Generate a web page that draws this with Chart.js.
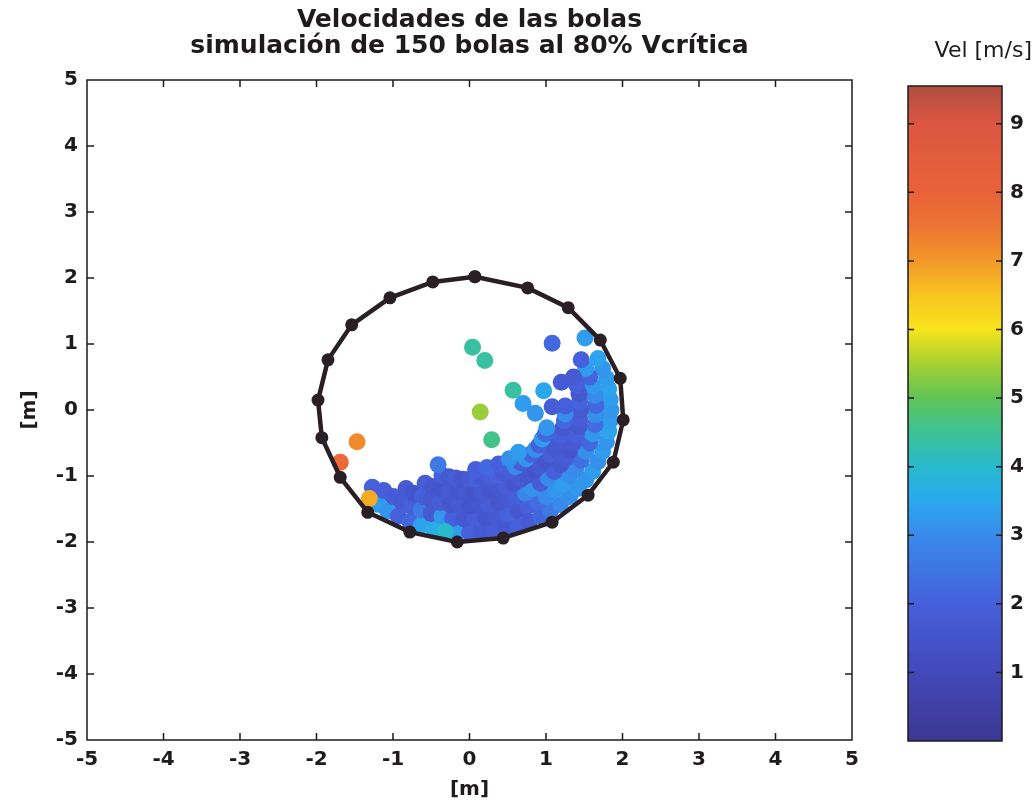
<!DOCTYPE html>
<html>
<head>
<meta charset="utf-8">
<script src="https://cdn.jsdelivr.net/npm/chart.js@4.4.0/dist/chart.umd.min.js"></script>
<style>
  html, body { margin:0; background:#fff; }
  #wrap { position:relative; width:1032px; height:802px; }
  #main { position:absolute; left:0; top:0; }
  #cbar { position:absolute; left:880px; top:0; }
</style>
</head>
<body>
<div id="wrap">
  <canvas id="main" width="880" height="802"></canvas>
  <canvas id="cbar" width="152" height="802"></canvas>
</div>
<script>
/* ======== DATA ======== */
const axisTicks = [-5,-4,-3,-2,-1,0,1,2,3,4,5];
const cbarTicks = [1,2,3,4,5,6,7,8,9];
const velMin = 0, velMax = 9.55;

// mill wall (lifters) - closed polygon
const wallX = [0.07, 0.76, 1.29, 1.71, 1.97, 2.01, 1.88, 1.55, 1.08, 0.44, -0.16, -0.78, -1.33, -1.69, -1.93, -1.98, -1.85, -1.54, -1.04, -0.48, 0.07];
const wallY = [2.02, 1.85, 1.55, 1.06, 0.48, -0.15, -0.79, -1.29, -1.70, -1.94, -2.00, -1.85, -1.55, -1.02, -0.42, 0.15, 0.76, 1.29, 1.70, 1.94, 2.02];

// balls: position [m] and speed [m/s]
const ballX = [
  -1.19,-1.07,-0.93,-0.78,-0.63,-0.47,-0.16,0.00,0.16,0.32,0.48,0.63,0.78,0.93,1.06,1.19,1.31,1.42,1.52,1.61,1.68,1.74,1.79,1.82,1.84,1.85,1.84,1.82,1.79,1.74,1.68,
  -1.12,-1.00,-0.89,-0.76,-0.63,-0.50,-0.36,-0.22,-0.07,0.07,0.22,0.36,0.50,0.63,0.76,0.89,1.00,1.12,1.22,1.31,1.39,1.46,1.52,1.57,1.61,1.64,1.65,1.65,1.64,1.61,1.57,1.52,1.46,
  -0.83,-0.73,-0.61,-0.50,-0.38,-0.25,-0.13,0.00,0.13,0.25,0.38,0.50,0.61,0.73,0.83,0.93,1.03,1.11,1.19,1.26,1.31,1.36,1.40,1.43,1.44,1.45,1.44,1.43,1.40,1.36,
  -0.58,-0.48,-0.38,-0.27,-0.16,-0.06,0.06,0.16,0.27,0.38,0.48,0.58,0.67,0.76,0.85,0.92,0.99,1.05,1.11,1.16,1.19,1.22,1.24,1.25,1.25,
  -0.36,-0.27,-0.18,-0.09,0.00,0.09,0.18,0.27,0.36,0.44,0.53,0.60,0.67,0.74,0.80,0.86,0.91,0.95,0.99,1.01,
  0.08,0.23,0.38,0.52,0.64,
  0.70,0.86,1.08,1.20,-1.27,
  -1.47,-1.69,0.04,0.20,0.14,0.29,0.57,0.97,1.08,1.51,-0.41,-1.31,-0.32
];
const ballY = [
  -1.43,-1.53,-1.61,-1.69,-1.75,-1.80,-1.85,-1.86,-1.84,-1.82,-1.79,-1.75,-1.69,-1.61,-1.52,-1.43,-1.31,-1.19,-1.06,-0.93,-0.78,-0.63,-0.48,-0.32,-0.16,0.00,0.16,0.32,0.48,0.63,0.78,
  -1.22,-1.31,-1.39,-1.46,-1.52,-1.57,-1.61,-1.64,-1.65,-1.65,-1.64,-1.61,-1.57,-1.52,-1.46,-1.39,-1.31,-1.22,-1.12,-1.00,-0.89,-0.76,-0.63,-0.50,-0.36,-0.22,-0.07,0.07,0.22,0.36,0.50,0.63,0.76,
  -1.19,-1.26,-1.31,-1.36,-1.40,-1.43,-1.44,-1.45,-1.44,-1.43,-1.40,-1.36,-1.31,-1.26,-1.19,-1.11,-1.03,-0.93,-0.83,-0.73,-0.61,-0.50,-0.38,-0.25,-0.13,0.00,0.13,0.25,0.38,0.50,
  -1.11,-1.16,-1.19,-1.22,-1.24,-1.25,-1.25,-1.24,-1.22,-1.19,-1.16,-1.11,-1.05,-0.99,-0.92,-0.85,-0.76,-0.67,-0.58,-0.48,-0.38,-0.27,-0.16,-0.06,0.06,
  -0.99,-1.01,-1.03,-1.05,-1.05,-1.05,-1.03,-1.01,-0.99,-0.95,-0.91,-0.86,-0.80,-0.74,-0.67,-0.60,-0.53,-0.44,-0.36,-0.27,
  -0.90,-0.87,-0.82,-0.74,-0.64,
  0.10,-0.05,0.05,0.42,-1.17,
  -0.48,-0.79,0.95,0.75,-0.03,-0.45,0.30,0.29,1.01,1.09,-0.83,-1.34,-1.84
];
const ballVel = [
  3.3,3.2,2.0,2.2,3.4,3.6,3.3,2.0,1.8,1.9,1.7,2.0,1.8,2.2,2.6,3.0,3.1,3.2,3.2,3.3,3.1,3.3,3.2,3.4,3.3,3.2,3.3,3.4,3.3,3.2,3.4,
  2.0,1.9,1.8,2.0,2.6,1.8,3.2,2.0,1.7,1.9,1.6,1.8,2.1,1.7,2.0,2.3,3.0,3.2,3.3,3.1,3.0,2.4,3.1,2.2,3.2,2.3,3.1,2.2,3.0,3.2,2.1,3.3,2.0,
  1.8,1.6,2.0,1.7,1.9,1.6,1.8,1.5,1.7,1.9,1.6,1.8,2.0,2.9,3.1,1.9,3.0,2.0,1.7,1.9,1.6,1.8,2.0,1.7,1.9,1.8,2.1,1.7,2.0,1.8,
  1.9,1.7,1.5,1.8,1.6,1.7,1.5,1.8,1.6,1.7,1.9,1.6,1.8,1.7,1.5,1.8,1.6,1.9,1.7,1.8,2.0,1.7,2.2,3.0,2.0,
  2.0,1.7,1.9,1.6,1.8,2.0,1.7,1.9,2.1,1.8,2.0,3.0,1.9,3.2,2.1,3.1,2.0,3.3,2.2,3.2,
  2.0,2.2,2.0,3.1,3.3,
  3.3,3.2,1.9,1.8,2.0,
  7.2,7.8,4.4,4.4,5.4,4.6,4.4,3.5,2.2,3.3,2.6,6.8,4.0
];

/* ======== COLORMAP ======== */
const cmapStops = [
  [0.0,[60,56,145]],[1.0,[67,72,185]],[2.0,[70,95,218]],[3.0,[56,138,235]],
  [3.5,[42,168,238]],[4.0,[40,186,205]],[4.5,[60,194,150]],[5.0,[95,196,85]],
  [5.5,[165,208,50]],[6.0,[248,228,28]],[6.5,[247,196,32]],[7.0,[242,152,40]],
  [7.5,[236,116,50]],[8.0,[232,98,56]],[9.0,[220,86,66]],[9.55,[176,78,66]]
];
function velColor(v){
  for(let i=1;i<cmapStops.length;i++){
    const [v1,c1] = cmapStops[i-1], [v2,c2] = cmapStops[i];
    if(v <= v2){
      const t = Math.max(0,(v-v1)/(v2-v1));
      return `rgb(${c1.map((c,k)=>Math.round(c+(c2[k]-c)*t)).join(',')})`;
    }
  }
  return `rgb(${cmapStops[cmapStops.length-1][1].join(',')})`;
}

/* ======== SHARED STYLE ======== */
const INK = '#1f1a1d';
const tickFont = { family:'DejaVu Sans', size:20, weight:'bold' };

// box around the axes + inward tick marks (MATLAB style)
const framePlugin = {
  id:'frame',
  afterDatasetsDraw(chart, args, opts){
    const {ctx, chartArea:a, scales} = chart;
    ctx.save();
    ctx.strokeStyle = INK;
    ctx.lineWidth = 1.5;
    ctx.strokeRect(a.left, a.top, a.right-a.left, a.bottom-a.top);
    ctx.beginPath();
    (opts.xTicks||[]).forEach(v=>{
      const px = scales.x.getPixelForValue(v);
      ctx.moveTo(px, a.bottom); ctx.lineTo(px, a.bottom-opts.len);
      ctx.moveTo(px, a.top); ctx.lineTo(px, a.top+opts.len);
    });
    (opts.yTicks||[]).forEach(v=>{
      const py = scales.y.getPixelForValue(v);
      ctx.moveTo(a.left, py); ctx.lineTo(a.left+opts.len, py);
      ctx.moveTo(a.right, py); ctx.lineTo(a.right-opts.len, py);
    });
    ctx.stroke();
    ctx.restore();
  }
};

/* ======== MAIN SCATTER ======== */
const wallPts = wallX.map((x,i)=>({x, y:wallY[i]}));
const ballPts = ballX.map((x,i)=>({x, y:ballY[i]}));

new Chart(document.getElementById('main'), {
  type:'scatter',
  data:{
    datasets:[
      { data:wallPts, showLine:true, borderColor:'#2a1f24', borderWidth:4.5,
        pointRadius:6.5, pointBackgroundColor:'#2a1f24', pointBorderWidth:0, order:1 },
      { data:ballPts, pointRadius:8.5, pointBorderWidth:0,
        pointBackgroundColor: c => velColor(ballVel[c.dataIndex]), order:2 }
    ]
  },
  options:{
    responsive:false, animation:false, events:[],
    layout:{ padding:{ left:0, right:28, top:0, bottom:0 } },
    plugins:{
      legend:{ display:false }, tooltip:{ enabled:false },
      title:{ display:true, fullSize:false, color:INK,
        text:['Velocidades de las bolas','simulación de 150 bolas al 80% Vcrítica'],
        font:{ family:'DejaVu Sans', size:25, weight:'bold', lineHeight:1.05 },
        padding:{ top:7, bottom:20.5 } },
      frame:{ xTicks:axisTicks.slice(1,-1), yTicks:axisTicks.slice(1,-1), len:7 }
    },
    scales:{
      x:{ type:'linear', min:-5, max:5,
        afterBuildTicks: s => { s.ticks = axisTicks.map(v=>({value:v})); },
        afterFit: s => { s.height = 62; },
        grid:{ display:false, drawTicks:false }, border:{ display:false },
        ticks:{ font:tickFont, color:INK, padding:8, maxRotation:0 },
        title:{ display:true, text:'[m]', font:tickFont, color:INK, padding:{ top:0, bottom:0 } } },
      y:{ type:'linear', min:-5, max:5,
        afterBuildTicks: s => { s.ticks = axisTicks.map(v=>({value:v})); },
        afterFit: s => { s.width = 87; },
        grid:{ display:false, drawTicks:false }, border:{ display:false },
        ticks:{ font:tickFont, color:INK, padding:9 },
        title:{ display:true, text:'[m]', font:tickFont, color:INK, padding:{ top:18, bottom:0 } } }
    }
  },
  plugins:[framePlugin]
});

/* ======== COLORBAR ======== */
function barGradient(ctx){
  const chart = ctx.chart;
  if(!chart.chartArea) return null;
  const y = chart.scales.y;
  const g = chart.ctx.createLinearGradient(0, y.getPixelForValue(velMin), 0, y.getPixelForValue(velMax));
  cmapStops.forEach(([v,c]) => g.addColorStop((v-velMin)/(velMax-velMin), `rgb(${c.join(',')})`));
  return g;
}

new Chart(document.getElementById('cbar'), {
  type:'bar',
  data:{ labels:[''], datasets:[{ data:[[velMin, velMax]], backgroundColor:barGradient,
    borderWidth:0, categoryPercentage:1, barPercentage:1 }] },
  options:{
    responsive:false, animation:false, events:[],
    layout:{ padding:{ left:28, right:0, top:0, bottom:61 } },
    plugins:{
      legend:{ display:false }, tooltip:{ enabled:false },
      title:{ display:true, align:'end', text:'Vel [m/s]', color:INK,
        font:{ family:'DejaVu Sans', size:22, weight:'normal', lineHeight:1.2 },
        padding:{ top:38, bottom:21.6 } },
      frame:{ yTicks:cbarTicks, len:6 }
    },
    scales:{
      x:{ display:false },
      y:{ position:'right', min:velMin, max:velMax,
        afterBuildTicks: s => { s.ticks = cbarTicks.map(v=>({value:v})); },
        afterFit: s => { s.width = 30; },
        grid:{ display:false, drawTicks:false }, border:{ display:false },
        ticks:{ font:tickFont, color:INK, padding:8 } }
    }
  },
  plugins:[framePlugin]
});
</script>
</body>
</html>
